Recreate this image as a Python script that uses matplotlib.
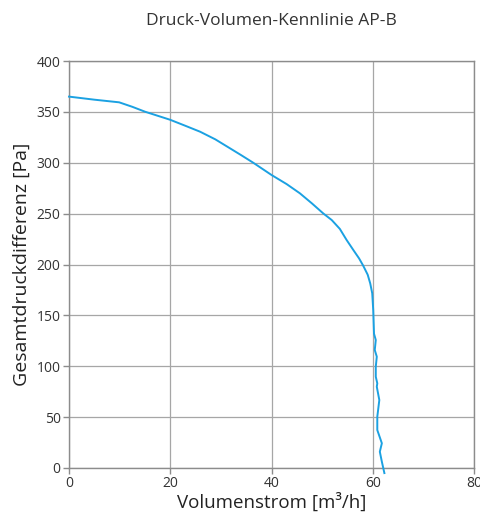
import matplotlib.pyplot as plt

# Kennlinie
volumenstrom = [0, 5, 9.9, 12.5, 15, 19.95, 22.9, 25.9, 28.9, 31.8, 34.0, 36.4,
                40.0, 43.0, 45.6, 48.0, 50.2, 51.9, 53.5, 54.85, 56.2, 57.3,
                58.1, 59.0, 59.5, 59.9, 60.1, 60.25, 60.6, 60.4, 60.8, 60.6,
                60.6, 60.9, 60.8, 61.3, 60.9, 60.9, 61.8, 61.4, 61.8, 62.3]
druck = [365, 362, 359.4, 355, 350.2, 342.3, 336.5, 330.5, 323, 314.2, 307.5, 300,
         288, 279, 270, 260, 250.3, 243.7, 235, 224, 214, 206,
         199, 190, 181.5, 171.7, 155, 132, 125.8, 116, 109.4, 99.6,
         89.7, 83.2, 79.9, 66.8, 50.4, 37.3, 24.3, 16, 6.2, -5]

xticks = [0, 20, 40, 60, 80]
yticks = [0, 50, 100, 150, 200, 250, 300, 350, 400]

plt.rcParams['font.family'] = ['Open Sans', 'DejaVu Sans']

fig = plt.figure(figsize=(4.81, 5.14), dpi=100)
ax = fig.add_axes([0.1435, 0.0895, 0.8419, 0.7918])

ax.plot(volumenstrom, druck, color='#1ba1e2', lw=1.4, clip_on=False, zorder=3)

ax.set_xlim(0, 80)
ax.set_ylim(0, 400)
ax.set_xticks(xticks)
ax.set_yticks(yticks)
ax.grid(True, color='#a6a6a6', lw=0.9)
for s in ax.spines.values():
    s.set_color('#8c8c8c')
    s.set_linewidth(1.0)
ax.tick_params(axis='both', colors='#8c8c8c', labelcolor='#333333',
               labelsize=10, length=4, width=1.0)
ax.tick_params(axis='x', pad=2)
ax.tick_params(axis='y', pad=2)

ax.set_xlabel('Volumenstrom [m³/h]', fontsize=13.5, color='#222222', labelpad=1)
ax.set_ylabel('Gesamtdruckdifferenz [Pa]', fontsize=14, color='#222222', labelpad=4)
fig.text(0.565, 0.96, 'Druck-Volumen-Kennlinie AP-B', ha='center', va='center',
         fontsize=12.5, color='#333333')

plt.savefig('out.png', dpi=100)
